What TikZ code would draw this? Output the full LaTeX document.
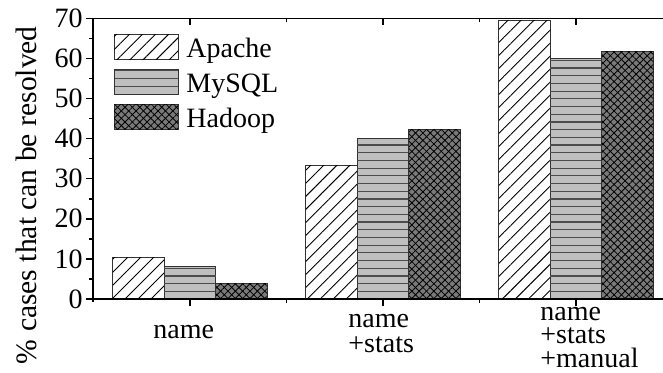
\documentclass[tikz,border=0pt]{standalone}
\usepackage{fontspec}
\setmainfont{Liberation Serif}
\usetikzlibrary{patterns.meta}

\tikzset{
  barframe/.style={draw=black!80, line width=0.5pt},
  apachebar/.style={barframe, fill=white,
    postaction={pattern={Lines[angle=45, distance=4.6pt, line width=0.45pt]}}},
  mysqlbar/.style={barframe, fill=black!25},
  hatchline/.style={line width=0.6pt, draw=black!70},
  hadoopbar/.style={barframe, fill=black!52,
    postaction={pattern={Lines[angle=45, distance=2.6pt, line width=0.4pt]}},
    postaction={pattern={Lines[angle=-45, distance=2.6pt, line width=0.4pt]}}},
  axisline/.style={line width=0.75pt},
  ticklabel/.style={font=\fontsize{14}{14}\selectfont, anchor=east, inner sep=0pt},
  legendtext/.style={font=\fontsize{14}{14}\selectfont, anchor=base west, inner sep=0pt},
  catlabel/.style={anchor=base west, inner sep=0pt, align=left}
}

% horizontal hatching: x1, x2, y1, y2, step
\newcommand\hlines[5]{%
  \foreach \k in {1,...,40} {
    \pgfmathsetmacro\hy{#3+\k*#5}
    \ifdim\hy pt<#4pt \draw[hatchline] (#1,\hy) -- (#2,\hy); \fi
  }%
}

\begin{document}
\begin{tikzpicture}[x=0.5pt, y=0.5pt]
  \useasboundingbox (0,0) rectangle (663,372);

  \begin{scope}[shift={(0,73)}, y=2.005pt]
    % bars
    \foreach \c/\a/\m/\h in {190/10.4/8/3.9, 383/33.3/40/42.2, 576/69.4/60/61.7} {
      \draw[apachebar] (\c-77.25,0) rectangle (\c-25.75,\a);
      \draw[mysqlbar] (\c-25.75,0) rectangle (\c+25.75,\m);
      \hlines{\c-25.75}{\c+25.75}{0}{\m}{1.92}
      \draw[hadoopbar] (\c+25.75,0) rectangle (\c+77.25,\h);
    }

    % axes
    \draw[axisline] (93,-0.75) -- (93,70) -- (663,70);
    \draw[axisline] (93,0) -- (663,0);
    \foreach \v in {0,10,...,70} {
      \draw[axisline] (86,\v) -- (93,\v);
      \node[ticklabel] (yt\v) at (83,\v) {\v};
    }
    \foreach \v in {5,15,...,65}
      \draw[axisline] (89,\v) -- (93,\v);
    \foreach \c in {190,383,576} {
      \draw[axisline] (\c,0) -- (\c,-1.75);
      \draw[axisline] (\c,70) -- (\c,68.25);
    }
    \foreach \c in {286.5,479.5} {
      \draw[axisline] (\c,0) -- (\c,-1);
      \draw[axisline] (\c,70) -- (\c,69);
    }

    \node[rotate=90, font=\fontsize{14.8}{14.8}\selectfont] (ylabel) at (26,25.9)
      {\% cases that can be resolved};
  \end{scope}

  % category labels
  \node[catlabel, font=\fontsize{14}{12.5}\selectfont] (cname) at (153,34) {name};
  \node[catlabel, font=\fontsize{14}{12.5}\selectfont] (cstats) at (348,20)
    {name\\+stats};
  \node[catlabel, font=\fontsize{14}{11.6}\selectfont] (cmanual) at (540,5)
    {name\\+stats\\+manual};

  % legend
  \foreach \s/\t/\yc in {apachebar/Apache/325, mysqlbar/MySQL/290, hadoopbar/Hadoop/255} {
    \draw[\s] (114,\yc-12.5) rectangle (178,\yc+12.5);
    \node[legendtext] (leg\t) at (186,\yc-10) {\t};
  }
  \hlines{114}{178}{277.5}{302}{8}
  \draw[barframe] (114,277.5) rectangle (178,302.5);
\end{tikzpicture}
\end{document}
